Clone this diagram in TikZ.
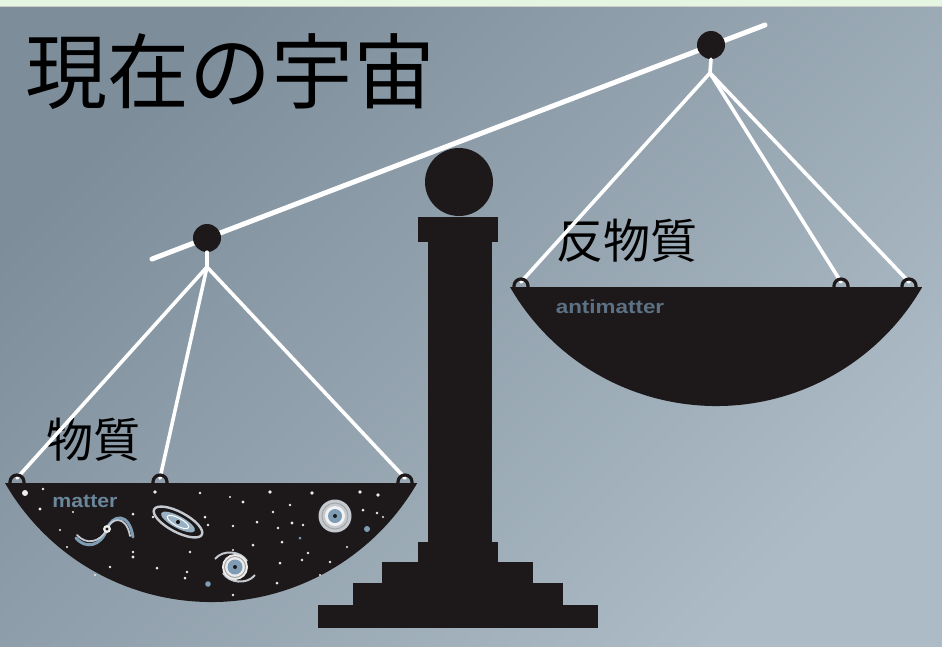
\documentclass[tikz,border=0pt]{standalone}
\usepackage{fontspec}
\setsansfont{Liberation Sans}
\newfontfamily\cjk{Noto Sans CJK JP}
\definecolor{panblack}{HTML}{1D181A}
\definecolor{labelblue}{HTML}{6A879B}
\definecolor{antiblue}{HTML}{5C7284}
\definecolor{galblue}{HTML}{7E9DB4}
\definecolor{galgray}{HTML}{C4CAD0}
\definecolor{mint}{HTML}{E4F6E2}
\definecolor{skydark}{RGB}{125,141,154}
\definecolor{skylight}{RGB}{172,187,197}
\tikzset{
  beam/.style={white, line width=5pt, line cap=round},
  cord/.style={white, line width=3.6pt, line cap=round},
  knob/.style={circle, fill=panblack, minimum size=28pt, inner sep=0pt},
  hookline/.style={panblack, line width=3.2pt, line cap=round},
  star/.style={white!85!gray},
  bluestar/.style={galblue},
  jtitle/.style={inner sep=0pt, font=\cjk\fontsize{82}{92}\selectfont},
  jlabel/.style={inner sep=0pt, font=\cjk\fontsize{47}{56}\selectfont},
  elabel/.style={inner sep=0pt, font=\sffamily\bfseries\fontsize{19}{22}\selectfont}
}
\begin{document}
\begin{tikzpicture}[x=1pt,y=-1pt]
\useasboundingbox (0,0) rectangle (942,646);
% backdrop
\shade[top color=skydark, bottom color=skylight, shading angle=45]
  (0,646) rectangle (942,6);
\fill[mint] (0,0) rectangle (942,6);
\draw[gray!40, line width=1pt] (0,6.5) -- (942,6.5);

% title and labels
\node[jtitle] (title) at (230,72) {現在の宇宙};
\node[jlabel] (anti) at (627,241) {反物質};
\node[jlabel] (mat) at (93,440) {物質};

% pillar with stepped base
\fill[panblack] (428,242) rectangle (492,545);
\fill[panblack] (418,217) rectangle (498,242);
\node[circle, fill=panblack, minimum size=68pt, inner sep=0pt] (top) at (459,182) {};
\fill[panblack] (418,542) rectangle (498,563);
\fill[panblack] (382,562) rectangle (533,584);
\fill[panblack] (353,583) rectangle (563,606);
\fill[panblack] (318,605) rectangle (598,628);

% beam and its end knobs
\coordinate (bl) at (152,259);
\coordinate (br) at (765,25);
\draw[beam] (bl) -- (br);
\node[knob] (kl) at (207,238) {};
\node[knob] (kr) at (711,45) {};

% cords of the left pan
\coordinate (jl) at (207,267);
\coordinate (hl1) at (17,478);
\coordinate (hl2) at (160,478);
\coordinate (hl3) at (405,478);
\draw[cord] (kl.south) -- (jl);
\draw[cord] (jl) -- (hl1);
\draw[cord] (jl) -- (hl2);
\draw[cord] (jl) -- (hl3);

% cords of the right pan
\coordinate (jr) at (710,73);
\coordinate (hr1) at (521,282);
\coordinate (hr2) at (841,282);
\coordinate (hr3) at (909,282);
\draw[cord] (kr.south) -- (jr);
\draw[cord] (jr) -- (hr1);
\draw[cord] (jr) -- (hr2);
\draw[cord] (jr) -- (hr3);

% pans
\fill[panblack] (5,483) arc[start angle=150, end angle=30, radius=238] -- cycle;
\fill[panblack] (510,287) arc[start angle=150, end angle=30, radius=238] -- cycle;

% hooks holding the cords
\foreach \p in {hl1,hl2,hl3,hr1,hr2,hr3}{
  \draw[hookline] ([xshift=-7pt,yshift=-6pt]\p) -- ++(0,-2)
    arc[start angle=180, end angle=360, radius=7] -- ++(0,2);
}

% pan captions
\node[elabel, text=labelblue, xscale=1.12] (mlab) at (85,501) {matter};
\node[elabel, text=antiblue, xscale=1.18] (alab) at (610,307) {antimatter};

% stars scattered in the matter pan
\foreach \x/\y/\r in {25/493/3, 43/489/1.4, 40/509/1.6, 155/492/1.8, 200/493/1.4,
  230/497/1.2, 243/502/1.6, 270/492/1.8, 312/493/1.8, 360/492/1.8, 378/495/1.8,
  363/510/1.5, 377/513/1.3, 383/517/1.2, 133/514/1.5, 153/517/1.3, 205/517/1.5,
  208/525/1.4, 233/526/1.4, 257/522/1.5, 278/528/1.3, 292/523/1.6, 303/525/1.3,
  282/542/1.5, 253/545/1.5, 233/550/1.2, 190/552/1.3, 133/557/1.6, 110/567/1.4,
  157/568/1.5, 187/572/1.4, 185/578/1.5, 233/595/1.3, 280/563/1.5, 302/560/1.4,
  308/553/1.3, 277/583/1.5, 330/562/1.4, 347/547/1.2, 67/547/1.2, 290/505/1.3,
  273/512/1.3, 60/530/1.1, 95/575/1.2, 320/575/1.2, 73/512/1.2, 133/552/1.3}{
  \fill[star] (\x,\y) circle[radius=\r];
}
\fill[bluestar] (367,529) circle[radius=3];
\fill[bluestar] (208,584) circle[radius=2.8];
\fill[bluestar] (300,538) circle[radius=1.5];

% ring galaxy
\begin{scope}[shift={(335,516)}]
  \fill[galgray] (0,0) circle[radius=16.5];
  \draw[gray!70, line width=1pt] (0,0) circle[radius=13];
  \fill[white!90!gray] (0,0) circle[radius=10];
  \fill[galblue] (0,0) circle[radius=7];
  \fill[panblack] (0,0) circle[radius=2];
\end{scope}

% spiral galaxy
\begin{scope}[shift={(235,567)}]
  \draw[galgray, line width=2pt] (-20,-8) .. controls (-12,-18) and (6,-16) .. (12,-6);
  \draw[galgray, line width=2pt] (20,8) .. controls (12,18) and (-6,16) .. (-12,6);
  \fill[white!85!gray] (0,0) circle[radius=13];
  \draw[gray!70, line width=1pt] (0,0) circle[radius=10.5];
  \fill[galblue] (0,0) circle[radius=7.5];
  \fill[panblack] (0,0) circle[radius=2];
\end{scope}

% edge-on galaxy
\begin{scope}[shift={(178,522)}, rotate=-28]
  \draw[galgray, line width=2.4pt] (0,0) ellipse[x radius=27, y radius=10];
  \fill[galblue!80!white] (0,0) ellipse[x radius=19, y radius=6];
  \draw[white, line width=1pt] (0,0) ellipse[x radius=12, y radius=4];
  \fill[panblack] (0,0) circle[radius=2];
\end{scope}

% S-shaped galaxy with two curved arms
\begin{scope}[shift={(107,529)}]
  \draw[galblue, line width=3pt, line cap=round] (-31,9) .. controls (-22,20) and (-6,18) .. (0,0);
  \draw[galgray, line width=1.8pt, line cap=round] (-30,6) .. controls (-21,16) and (-7,14) .. (0,0);
  \draw[galblue, line width=3pt, line cap=round] (0,0) .. controls (5,-14) and (22,-18) .. (26,8);
  \draw[galgray, line width=1.8pt, line cap=round] (0,0) .. controls (4,-11) and (19,-15) .. (23,7);
  \fill[white!85!gray] (0,0) circle[radius=4];
  \fill[panblack] (0,0) circle[radius=1.7];
\end{scope}
\end{tikzpicture}
\end{document}
